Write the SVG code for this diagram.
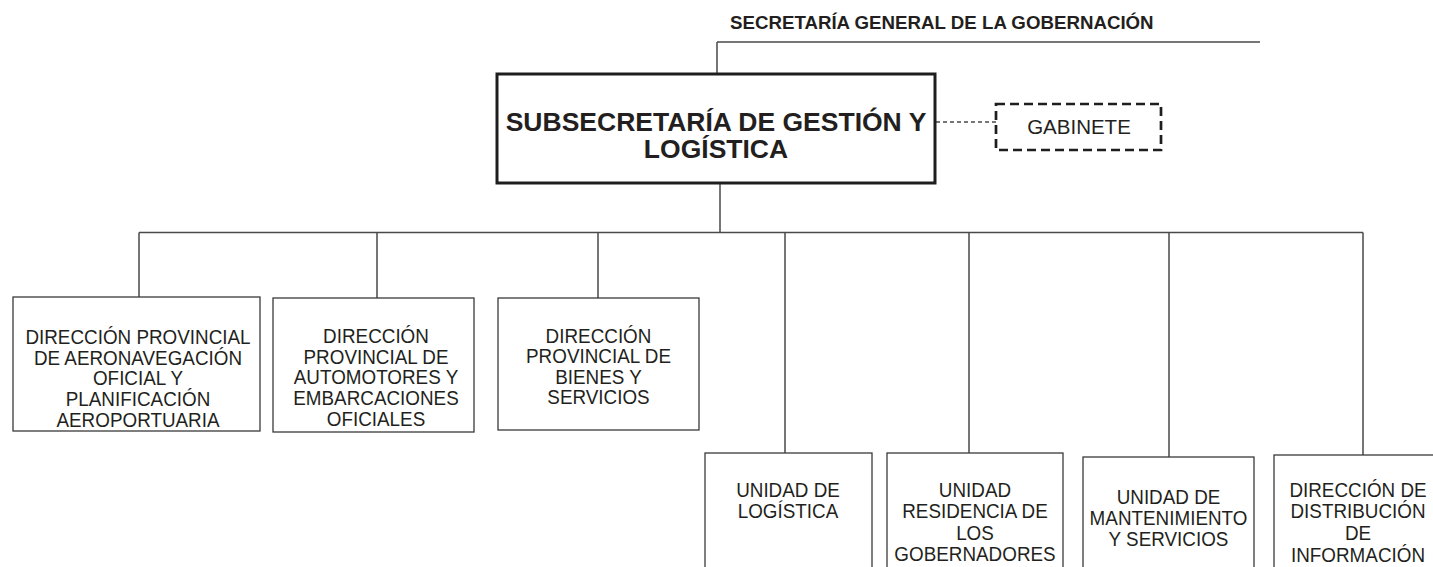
<svg xmlns="http://www.w3.org/2000/svg" width="1433" height="567" viewBox="0 0 1433 567">
  <style>
    .conn { stroke: #4a4a4a; stroke-width: 1.5; fill: none; }
    .box { fill: #ffffff; stroke: #3a3a3a; stroke-width: 1.3; }
    .main { fill: #ffffff; stroke: #1e1e1e; stroke-width: 3; }
    .dash { fill: #ffffff; stroke: #1e1e1e; stroke-width: 2.7; stroke-dasharray: 9 5; }
    .t { font-family: "Liberation Sans", Arial, sans-serif; font-size: 20.5px; fill: #231f20; text-anchor: middle; }
    .tb { font-family: "Liberation Sans", Arial, sans-serif; font-weight: bold; fill: #231f20; }
  </style>
  <rect width="1433" height="567" fill="#ffffff"/>

  <g id="connectors">
    <path class="conn" d="M717 42 H1260 M717 42 V74"/>
    <path class="conn" d="M720 183 V232.5 M139 232.5 H1363"/>
    <path class="conn" d="M139 232.5 V297 M377 232.5 V298 M598 232.5 V298 M785 232.5 V453 M969 232.5 V453 M1169 232.5 V457 M1363 232.5 V455"/>
    <path class="conn" d="M936 122 H996" stroke-dasharray="4 3" stroke-width="1.3"/>
  </g>

  <g id="secretaria">
    <text class="tb" x="730" y="29" font-size="18.7">SECRETARÍA GENERAL DE LA GOBERNACIÓN</text>
  </g>

  <g id="subsecretaria">
    <rect class="main" x="497" y="74" width="438" height="109"/>
    <text class="tb" x="716" y="131" font-size="26.5" text-anchor="middle">SUBSECRETARÍA DE GESTIÓN Y</text>
    <text class="tb" x="716" y="158" font-size="26.5" text-anchor="middle">LOGÍSTICA</text>
  </g>

  <g id="gabinete">
    <rect class="dash" x="996" y="104" width="165" height="46"/>
    <text class="t" x="1079" y="134" font-size="18">GABINETE</text>
  </g>

  <g id="dp-aeronavegacion">
    <rect class="box" x="13" y="297" width="247" height="134"/>
    <g transform="translate(138 0) scale(0.92 1)">
      <text class="t" x="0" y="344">DIRECCIÓN PROVINCIAL</text>
      <text class="t" x="0" y="365">DE AERONAVEGACIÓN</text>
      <text class="t" x="0" y="385.5">OFICIAL Y</text>
      <text class="t" x="0" y="406">PLANIFICACIÓN</text>
      <text class="t" x="0" y="427">AEROPORTUARIA</text>
    </g>
  </g>

  <g id="dp-automotores">
    <rect class="box" x="273" y="298" width="201" height="134"/>
    <g transform="translate(376 0) scale(0.92 1)">
      <text class="t" x="0" y="343.5">DIRECCIÓN</text>
      <text class="t" x="0" y="364">PROVINCIAL DE</text>
      <text class="t" x="0" y="384.5">AUTOMOTORES Y</text>
      <text class="t" x="0" y="405">EMBARCACIONES</text>
      <text class="t" x="0" y="426">OFICIALES</text>
    </g>
  </g>

  <g id="dp-bienes">
    <rect class="box" x="498" y="298" width="201" height="132"/>
    <g transform="translate(598.5 0) scale(0.92 1)">
      <text class="t" x="0" y="343">DIRECCIÓN</text>
      <text class="t" x="0" y="363.5">PROVINCIAL DE</text>
      <text class="t" x="0" y="384">BIENES Y</text>
      <text class="t" x="0" y="404.5">SERVICIOS</text>
    </g>
  </g>

  <g id="unidad-logistica">
    <rect class="box" x="705" y="453" width="167" height="130"/>
    <g transform="translate(788 0) scale(0.92 1)">
      <text class="t" x="0" y="497">UNIDAD DE</text>
      <text class="t" x="0" y="518">LOGÍSTICA</text>
    </g>
  </g>

  <g id="unidad-residencia">
    <rect class="box" x="887" y="453" width="176" height="130"/>
    <g transform="translate(975 0) scale(0.92 1)">
      <text class="t" x="0" y="497">UNIDAD</text>
      <text class="t" x="0" y="518.5">RESIDENCIA DE</text>
      <text class="t" x="0" y="540">LOS</text>
      <text class="t" x="0" y="561.5">GOBERNADORES</text>
    </g>
  </g>

  <g id="unidad-mantenimiento">
    <rect class="box" x="1083" y="457" width="171" height="130"/>
    <g transform="translate(1168.5 0) scale(0.92 1)">
      <text class="t" x="0" y="504">UNIDAD DE</text>
      <text class="t" x="0" y="525">MANTENIMIENTO</text>
      <text class="t" x="0" y="546">Y SERVICIOS</text>
    </g>
  </g>

  <g id="direccion-distribucion">
    <rect class="box" x="1274" y="455" width="168" height="130"/>
    <g transform="translate(1358 0) scale(0.92 1)">
      <text class="t" x="0" y="497">DIRECCIÓN DE</text>
      <text class="t" x="0" y="518">DISTRIBUCIÓN</text>
      <text class="t" x="0" y="540">DE</text>
      <text class="t" x="0" y="562">INFORMACIÓN</text>
    </g>
  </g>
</svg>
